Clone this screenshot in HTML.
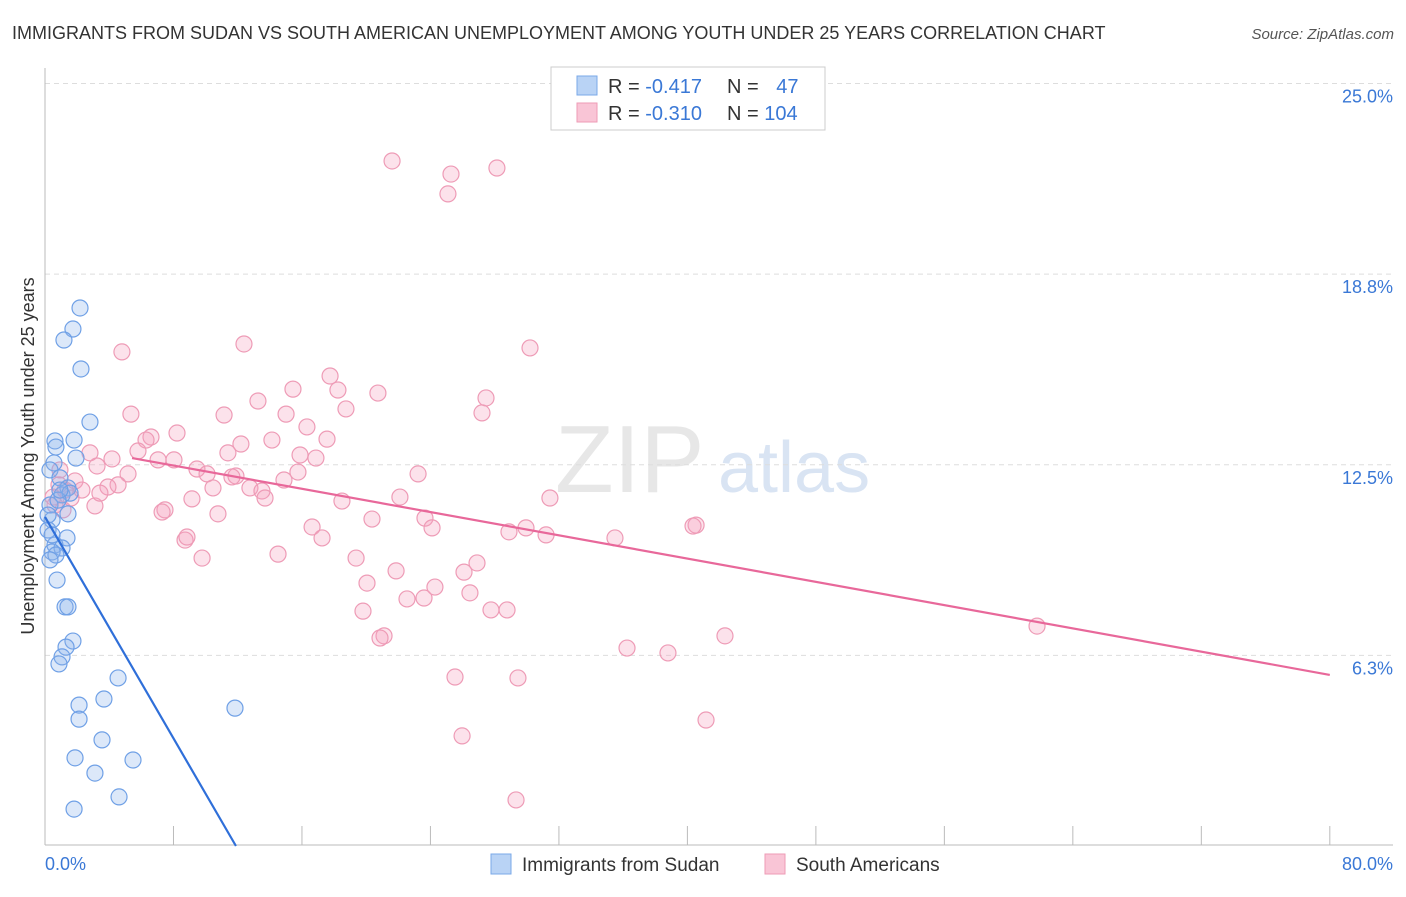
<!DOCTYPE html>
<html><head><meta charset="utf-8"><style>
body{margin:0;background:#fff;font-family:"Liberation Sans",sans-serif;}
svg text{font-family:"Liberation Sans",sans-serif;}
</style></head><body>
<svg id="chart" width="1406" height="892">
<text x="12" y="39" font-size="18" fill="#333">IMMIGRANTS FROM SUDAN VS SOUTH AMERICAN UNEMPLOYMENT AMONG YOUTH UNDER 25 YEARS CORRELATION CHART</text>
<text x="1394" y="39" font-size="15" fill="#555" text-anchor="end" font-style="italic">Source: ZipAtlas.com</text>
<text x="34" y="456" font-size="18" fill="#333" text-anchor="middle" transform="rotate(-90 34 456)">Unemployment Among Youth under 25 years</text>
<g><text x="555" y="492" font-size="96" fill="#ddd" font-family="Liberation Serif" opacity="0.7">ZIP</text><text x="718" y="492" font-size="72" fill="#c9d9ef" opacity="0.7">atlas</text></g>
<g id="grid"></g><g id="axes"></g><g id="pts"></g><g id="lines"></g>
<g>
<rect x="551" y="67" width="274" height="63" fill="#fff" stroke="#ccc"/>
<rect x="577" y="76" width="20" height="19" fill="#b9d3f5" stroke="#7aa8e8"/>
<rect x="577" y="103" width="20" height="19" fill="#f9c5d6" stroke="#ee9bb6"/>
<text x="608" y="93" font-size="20" fill="#333">R = <tspan fill="#3a78d6">-0.417</tspan></text>
<text x="727" y="93" font-size="20" fill="#333">N = <tspan fill="#3a78d6" dx="12">47</tspan></text>
<text x="608" y="120" font-size="20" fill="#333">R = <tspan fill="#3a78d6">-0.310</tspan></text>
<text x="727" y="120" font-size="20" fill="#333">N = <tspan fill="#3a78d6">104</tspan></text>
</g>
<g>
<rect x="491" y="854" width="20" height="20" fill="#b9d3f5" stroke="#7aa8e8"/>
<text x="522" y="871" font-size="19" fill="#333">Immigrants from Sudan</text>
<rect x="765" y="854" width="20" height="20" fill="#f9c5d6" stroke="#ee9bb6"/>
<text x="796" y="871" font-size="19" fill="#333">South Americans</text>
</g>
</svg>
<script>
const yTicks=[25.0,18.75,12.5,6.25];
const yTickLabels=["25.0%","18.8%","12.5%","6.3%"];
const xTicks=[0,8,16,24,32,40,48,56,64,72,80];
const blueX=[2.18,1.74,1.18,2.24,2.80,0.62,1.81,0.68,1.93,0.56,0.31,0.93,1.43,1.06,1.56,0.31,1.43,0.44,1.37,0.62,1.06,0.44,0.68,0.31,0.75,1.25,1.43,1.74,1.31,1.06,0.87,4.55,3.67,2.12,2.12,3.55,1.87,5.48,3.11,1.81,4.61,11.83,0.19,0.81,0.19,0.93,0.44];
const blueY=[17.64,16.95,16.59,15.64,13.90,13.28,13.31,13.08,12.72,12.56,12.33,12.07,11.74,11.51,11.57,11.18,10.89,10.69,10.10,9.87,9.77,9.64,9.54,9.38,8.72,7.84,7.84,6.72,6.52,6.20,5.97,5.51,4.82,4.62,4.16,3.48,2.89,2.82,2.39,1.21,1.61,4.52,10.36,11.34,10.85,11.67,10.20];
const pinkX=[21.61,25.28,28.14,25.09,30.20,4.79,12.39,17.75,15.44,18.24,20.73,27.46,13.26,18.74,5.35,11.15,15.01,27.21,16.31,6.60,8.22,6.29,17.56,14.13,12.20,2.80,5.79,11.39,15.88,16.87,4.17,7.04,8.03,9.46,5.17,11.89,10.09,11.64,23.23,15.75,14.88,4.55,10.46,3.92,12.76,13.51,13.70,1.87,0.87,1.25,2.30,0.50,0.62,1.12,3.11,1.62,3.42,9.15,18.49,22.10,31.44,7.47,7.29,10.77,20.36,23.66,16.63,24.10,28.89,29.95,31.20,35.49,40.54,40.35,17.25,8.72,8.84,9.78,14.51,19.37,26.90,21.86,26.09,20.05,24.28,22.54,23.60,26.46,19.80,27.77,28.77,21.11,20.86,42.34,61.77,36.24,38.79,25.53,29.45,41.16,25.97,29.33,3.24,0.93];
const pinkY=[22.46,22.03,22.23,21.38,16.33,16.20,16.46,15.41,14.98,14.95,14.85,14.69,14.59,14.33,14.16,14.13,14.16,14.20,13.74,13.41,13.54,13.31,13.34,13.31,13.18,12.89,12.95,12.89,12.82,12.72,12.69,12.66,12.66,12.36,12.20,12.13,12.20,12.10,12.20,12.26,12.00,11.84,11.74,11.77,11.74,11.64,11.41,11.97,11.84,11.67,11.67,11.44,11.18,11.02,11.15,11.41,11.57,11.38,11.31,11.44,11.41,11.02,10.95,10.89,10.72,10.75,10.46,10.43,10.30,10.43,10.20,10.10,10.52,10.49,10.10,10.03,10.13,9.44,9.57,9.44,9.28,9.02,8.98,8.62,8.49,8.10,8.13,8.30,7.70,7.74,7.74,6.89,6.82,6.89,7.21,6.49,6.33,5.54,5.51,4.13,3.61,1.51,12.46,12.33];
const blueTrend=[[0,10.79],[11.89,0]];
const pinkTrend=[[5.42,12.72],[80,5.61]];
const X=v=>45+v*16.06, Y=v=>846-v*30.5;
const NS="http://www.w3.org/2000/svg";
function mk(tag,parent,attrs){const e=document.createElementNS(NS,tag);for(const k in attrs)e.setAttribute(k,attrs[k]);document.getElementById(parent).appendChild(e);return e;}
yTicks.forEach((t,i)=>{
 const l=mk('line','grid',{x1:45,x2:1393,y1:Y(t),y2:Y(t),stroke:'#ddd','stroke-dasharray':'5,4'});
 
 
 const tx=mk('text','axes',{x:1393,y:Y(t)+19,'font-size':18,fill:'#3a78d6','text-anchor':'end'});
 tx.textContent=yTickLabels[i];
 
 
});
const ax=mk('line','axes',{x1:45,x2:1393,y1:845,y2:845,stroke:'#bbb'});


const ay=mk('line','axes',{x1:45,x2:45,y1:68,y2:845,stroke:'#bbb'});


xTicks.forEach(t=>{
 const l=mk('line','axes',{x1:X(t),x2:X(t),y1:826,y2:845,stroke:'#bbb'});
 
 
});
const xl0=mk('text','axes',{x:45,y:870,'font-size':18,fill:'#3a78d6'});xl0.textContent='0.0%';


const xl1=mk('text','axes',{x:1393,y:870,'font-size':18,fill:'#3a78d6','text-anchor':'end'});xl1.textContent='80.0%';


pinkX.forEach((v,i)=>{
 const c=mk('circle','pts',{cx:X(v),cy:Y(pinkY[i]),r:8,fill:'rgba(244,160,190,0.3)',stroke:'#ee9bb6','stroke-width':1.2});
 
 
});
blueX.forEach((v,i)=>{
 const c=mk('circle','pts',{cx:X(v),cy:Y(blueY[i]),r:8,fill:'rgba(140,180,235,0.3)',stroke:'#6fa0e6','stroke-width':1.2});
 
 
});
const bl=mk('line','lines',{x1:X(blueTrend[0][0]),y1:Y(blueTrend[0][1]),x2:X(blueTrend[1][0]),y2:Y(blueTrend[1][1]),stroke:'#2f6fd9','stroke-width':2.2});


const pl=mk('line','lines',{x1:X(pinkTrend[0][0]),y1:Y(pinkTrend[0][1]),x2:X(pinkTrend[1][0]),y2:Y(pinkTrend[1][1]),stroke:'#e8689a','stroke-width':2.2});


</script>
</body></html>
